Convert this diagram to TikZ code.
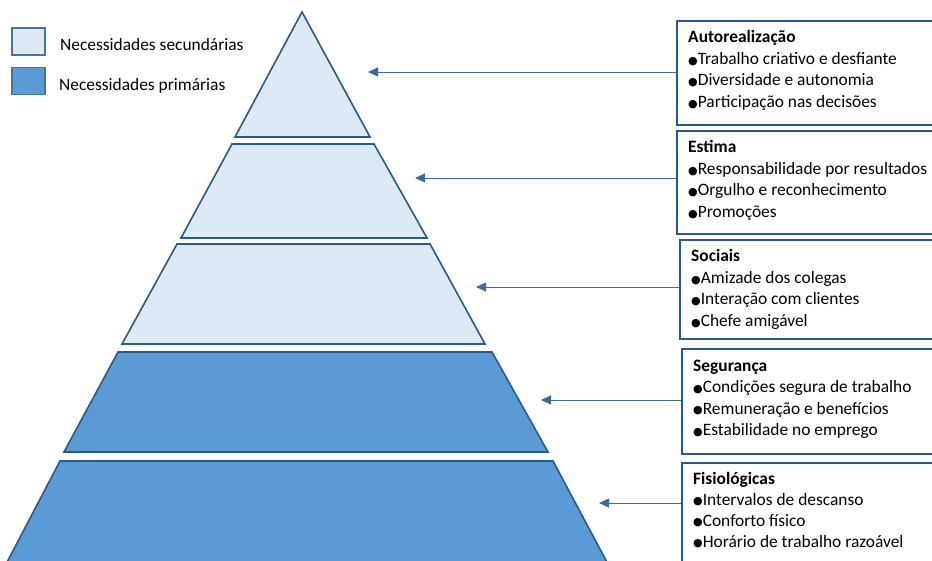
\documentclass[tikz,border=0pt]{standalone}
\usepackage{fontspec}
\setmainfont{Carlito}
\newfontfamily\symbfont{DejaVu Sans}
\usetikzlibrary{arrows.meta}
\definecolor{lightfill}{HTML}{DEE9F6}
\definecolor{darkfill}{HTML}{5B9BD5}
\definecolor{edge}{HTML}{2B5A88}
\definecolor{arrowc}{HTML}{3F6A97}
\newcommand{\bul}{\raisebox{0.4pt}{\symbfont\fontsize{11}{11}\selectfont ●}}

\begin{document}
\begin{tikzpicture}[x=1pt,y=-1pt,
  level/.style={draw=edge,line width=1.6pt,line join=miter},
  upper/.style={level,fill=lightfill},
  lower/.style={level,fill=darkfill},
  infobox/.style={draw=edge,line width=1.6pt,fill=white,rectangle,inner sep=0,anchor=north west,minimum width=270pt},
  txt/.style={anchor=base west,inner sep=0,font=\fontsize{17.4}{20}\selectfont},
  head/.style={txt,font=\fontsize{17.4}{20}\selectfont\bfseries},
  pointer/.style={draw=arrowc,line width=0.9pt,-{Triangle[length=10pt,width=9pt]}},
  legend/.style={draw=edge!85,line width=1.4pt,minimum width=33pt,minimum height=27pt,inner sep=0}
]
\useasboundingbox (0,0) rectangle (932,561);
\clip (0,0) rectangle (932,561);

% pyramid levels, top to bottom
\draw[upper] (302,12) -- (370,137) -- (235,137) -- cycle;
\draw[upper] (232,144) -- (374,144) -- (427,238) -- (181,238) -- cycle;
\draw[upper] (177,244) -- (430,244) -- (485,344) -- (122,344) -- cycle;
\draw[lower] (118,352) -- (492,352) -- (548,452) -- (64,452) -- cycle;
\draw[lower] (60,461) -- (553,461) -- (609,566) -- (5,566) -- cycle;

% legend
\node[legend,fill=lightfill] (l1) at (28.5,41.5) {};
\node[legend,fill=darkfill] (l2) at (28.5,81) {};
\node[txt] (l1t) at (60,51) {Necessidades secundárias};
\node[txt] (l2t) at (59,91) {Necessidades primárias};

% description boxes
\node[infobox,minimum height=104pt] (b1) at (676,20) {};
\node[infobox,minimum height=103pt] (b2) at (676,130) {};
\node[infobox,minimum height=99pt] (b3) at (679,239) {};
\node[infobox,minimum height=105pt] (b4) at (681,348) {};
\node[infobox,minimum height=110pt] (b5) at (681,462) {};

\node[head] (b1t) at ([xshift=12pt,yshift=-23pt]b1.north west) {Autorealização};
\node[txt] (b1a) at ([yshift=-21.5pt]b1t.base west) {\bul Trabalho criativo e desfiante};
\node[txt] (b1b) at ([yshift=-21.5pt]b1a.base west) {\bul Diversidade e autonomia};
\node[txt] (b1c) at ([yshift=-21.5pt]b1b.base west) {\bul Participação nas decisões};

\node[head] (b2t) at ([xshift=12pt,yshift=-23pt]b2.north west) {Estima};
\node[txt] (b2a) at ([yshift=-21.5pt]b2t.base west) {\bul Responsabilidade por resultados};
\node[txt] (b2b) at ([yshift=-21.5pt]b2a.base west) {\bul Orgulho e reconhecimento};
\node[txt] (b2c) at ([yshift=-21.5pt]b2b.base west) {\bul Promoções};

\node[head] (b3t) at ([xshift=12pt,yshift=-23pt]b3.north west) {Sociais};
\node[txt] (b3a) at ([yshift=-21.5pt]b3t.base west) {\bul Amizade dos colegas};
\node[txt] (b3b) at ([yshift=-21.5pt]b3a.base west) {\bul Interação com clientes};
\node[txt] (b3c) at ([yshift=-21.5pt]b3b.base west) {\bul Chefe amigável};

\node[head] (b4t) at ([xshift=12pt,yshift=-23pt]b4.north west) {Segurança};
\node[txt] (b4a) at ([yshift=-21.5pt]b4t.base west) {\bul Condições segura de trabalho};
\node[txt] (b4b) at ([yshift=-21.5pt]b4a.base west) {\bul Remuneração e benefícios};
\node[txt] (b4c) at ([yshift=-21.5pt]b4b.base west) {\bul Estabilidade no emprego};

\node[head] (b5t) at ([xshift=12pt,yshift=-22pt]b5.north west) {Fisiológicas};
\node[txt] (b5a) at ([yshift=-21pt]b5t.base west) {\bul Intervalos de descanso};
\node[txt] (b5b) at ([yshift=-21pt]b5a.base west) {\bul Conforto físico};
\node[txt] (b5c) at ([yshift=-21pt]b5b.base west) {\bul Horário de trabalho razoável};

% pointers from each box to its level
\coordinate (p1) at (368,72);
\coordinate (p2) at (415,178);
\coordinate (p3) at (476,287);
\coordinate (p4) at (541,400);
\coordinate (p5) at (599,503);
\draw[pointer] (p1 -| b1.west) -- (p1);
\draw[pointer] (p2 -| b2.west) -- (p2);
\draw[pointer] (p3 -| b3.west) -- (p3);
\draw[pointer] (p4 -| b4.west) -- (p4);
\draw[pointer] (p5 -| b5.west) -- (p5);
\end{tikzpicture}
\end{document}
